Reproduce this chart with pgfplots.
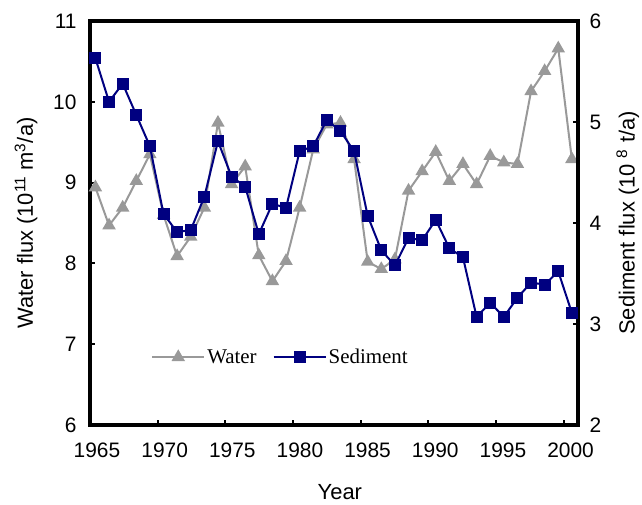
\documentclass[border=0pt]{standalone}
\usepackage{pgfplots}
\pgfplotsset{compat=1.18}
\usepackage{fontspec}
\setmainfont{Liberation Sans}
\newfontfamily\timesf{Liberation Serif}
\definecolor{navy}{RGB}{0,0,128}
\definecolor{wgray}{RGB}{153,153,153}

\pgfplotstableread{
year water
1965 8.94
1966 8.47
1967 8.69
1968 9.02
1969 9.35
1970 8.60
1971 8.09
1972 8.33
1973 8.69
1974 9.74
1975 8.98
1976 9.20
1977 8.10
1978 7.78
1979 8.03
1980 8.69
1981 9.41
1982 9.72
1983 9.74
1984 9.29
1985 8.02
1986 7.93
1987 8.05
1988 8.90
1989 9.14
1990 9.38
1991 9.02
1992 9.23
1993 8.98
1994 9.33
1995 9.25
1996 9.23
1997 10.13
1998 10.38
1999 10.66
2000 9.29
}\watertable

\pgfplotstableread{
year sed
1965 5.63
1966 5.20
1967 5.38
1968 5.07
1969 4.76
1970 4.09
1971 3.91
1972 3.93
1973 4.26
1974 4.81
1975 4.46
1976 4.36
1977 3.89
1978 4.19
1979 4.15
1980 4.71
1981 4.76
1982 5.02
1983 4.91
1984 4.71
1985 4.07
1986 3.73
1987 3.58
1988 3.85
1989 3.83
1990 4.03
1991 3.75
1992 3.66
1993 3.07
1994 3.21
1995 3.07
1996 3.26
1997 3.41
1998 3.39
1999 3.52
2000 3.11
}\sedtable

\begin{document}
\begin{tikzpicture}
\useasboundingbox (-90bp,-80bp) rectangle (552bp,425bp);
\pgfplotsset{
  common/.style={
    width=488bp, height=404bp, scale only axis,
    xmin=1964.6, xmax=2000.45,
    axis line style={line width=4bp},
    tick align=inside,
    major tick length=5bp,
    every tick/.style={black, line width=2bp},
    /pgf/number format/assume math mode=true,
    tick label style={font=\fontsize{21}{24}\selectfont},
    label style={font=\fontsize{22}{26}\selectfont},
  },
}
\begin{axis}[common,
  ymin=6, ymax=11, ytick={6,7,8,9,10,11},
  xtick={1964.6,1969.57,1974.54,1979.51,1984.48,1989.45,1994.42,1999.39},
  xticklabels={1965,1970,1975,1980,1985,1990,1995,2000},
  xtick pos=bottom, ytick pos=left,
  xticklabel style={xshift=7bp, yshift=-14bp},
  yticklabel style={xshift=-10bp},
  xlabel={Year},
  xlabel style={at={(axis description cs:0.512,-0.166)}, anchor=center},
  ylabel={Water flux (10\textsuperscript{11} m\textsuperscript{3}/a)},
  ylabel style={at={(axis description cs:-0.131,0.5)}, anchor=center, rotate=0},
]
\addplot[wgray, line width=2bp, mark=triangle*, mark size=5.8bp,
  mark options={fill=wgray, draw=wgray, solid}] table[x=year,y=water] {\watertable};
\end{axis}
\begin{axis}[common,
  ymin=2, ymax=6, ytick={2,3,4,5,6},
  axis x line=none, axis y line*=right,
  ytick pos=right,
  yticklabel style={xshift=8bp},
  ylabel={Sediment flux (10 \textsuperscript{8} t/a)},
  ylabel style={at={(axis description cs:1.102,0.5)}, anchor=center, rotate=0},
  legend style={at={(0.119,0.168)}, anchor=west, draw=none, fill=none,
    legend columns=2, font=\timesf\fontsize{21}{24}\selectfont,
    /tikz/every even column/.append style={column sep=14bp}},
  legend cell align=left,
  legend image code/.code={
    \draw[mark repeat=2,mark phase=2,#1] plot coordinates {(0bp,0bp) (26bp,0bp) (52bp,0bp)};
  },
]
\addlegendimage{wgray, line width=2bp, mark=triangle*, mark size=5.8bp, mark options={fill=wgray, draw=wgray, solid}}
\addlegendentry{Water}
\addplot[navy, line width=2bp, mark=square*, mark size=5bp,
  mark options={fill=navy, draw=navy, solid}] table[x=year,y=sed] {\sedtable};
\addlegendentry{Sediment}
\end{axis}
\end{tikzpicture}
\end{document}
